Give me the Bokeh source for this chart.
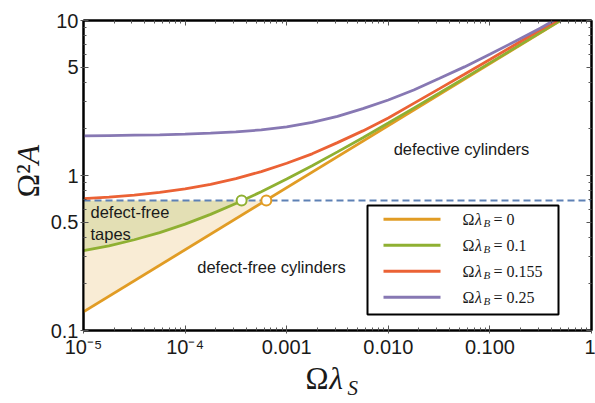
import math
from bokeh.plotting import figure
from bokeh.layouts import row, column
from bokeh.models import (Range1d, FixedTicker, LogAxis, CustomJSTickFormatter,
                          Label, BoxAnnotation, ColumnDataSource)
from bokeh.embed import file_html
from bokeh.resources import INLINE

# ---------------- data ----------------
X_TICKS = [1e-5, 1e-4, 1e-3, 1e-2, 1e-1, 1.0]
X_TICK_LABELS = ["10\u207b\u2075", "10\u207b\u2074", "0.001", "0.010", "0.100", "1"]
X_MINOR = [m * d for d in [1e-5, 1e-4, 1e-3, 1e-2, 1e-1] for m in range(2, 10)]
Y_TICKS = [0.1, 0.5, 1, 5, 10]
Y_TICK_LABELS = ["0.1", "0.5", "1", "5", "10"]
Y_MINOR = [0.2, 0.3, 0.4, 0.6, 0.7, 0.8, 0.9, 2, 3, 4, 6, 7, 8, 9]

# Omega lambda_B = 0  (straight line in log-log)
ORANGE_X = [1e-5, 0.495]
ORANGE_Y = [0.132, 10.0]

# Omega lambda_B = 0.1
GREEN_X = [1e-5, 1.78e-5, 3.16e-5, 5.62e-5, 1e-4, 1.78e-4, 3.16e-4, 5.62e-4, 1e-3,
           1.78e-3, 3.16e-3, 5.62e-3, 0.01, 0.0178, 0.0316, 0.0562, 0.1, 0.178, 0.316, 0.490]
GREEN_Y = [0.327, 0.352, 0.385, 0.428, 0.486, 0.561, 0.659, 0.786, 0.948,
           1.155, 1.42, 1.75, 2.18, 2.72, 3.39, 4.25, 5.33, 6.69, 8.40, 10.0]

# Omega lambda_B = 0.155
RED_X = [1e-5, 1.78e-5, 3.16e-5, 5.62e-5, 1e-4, 1.78e-4, 3.16e-4, 5.62e-4, 1e-3,
         1.78e-3, 3.16e-3, 5.62e-3, 0.01, 0.0178, 0.0316, 0.0562, 0.1, 0.178, 0.316, 0.460]
RED_Y = [0.710, 0.726, 0.747, 0.778, 0.819, 0.877, 0.955, 1.06, 1.20,
         1.38, 1.63, 1.94, 2.35, 2.92, 3.62, 4.50, 5.60, 7.00, 8.75, 10.0]

# Omega lambda_B = 0.25
PURPLE_X = [1e-5, 1.78e-5, 3.16e-5, 5.62e-5, 1e-4, 1.78e-4, 3.16e-4, 5.62e-4, 1e-3,
            1.78e-3, 3.16e-3, 5.62e-3, 0.01, 0.0178, 0.0316, 0.0562, 0.1, 0.178, 0.316, 0.425]
PURPLE_Y = [1.80, 1.81, 1.82, 1.83, 1.85, 1.875, 1.91, 1.97, 2.06,
            2.20, 2.41, 2.70, 3.07, 3.56, 4.22, 5.02, 6.05, 7.35, 8.95, 10.0]

DASH_LEVEL = 0.69
GREEN_CROSS_X = 3.6e-4
ORANGE_CROSS_X = 6.3e-4

LEGEND_VALUES = ["0", "0.1", "0.155", "0.25"]
REGION_TEXTS = ["defective cylinders", "defect-free cylinders", "defect-free", "tapes"]

X_MIN, X_MAX = 1e-5, 1.0
Y_MIN, Y_MAX = 0.1, 10.0

# ---------------- styling ----------------
C_BLUE = "#5E81B5"
C_ORANGE = "#E19C24"
C_GREEN = "#8FB032"
C_RED = "#EB6235"
C_PURPLE = "#8778B3"
C_BEIGE = "#F9ECD5"
C_TAPES = "#E3DFB4"
TXT = "#1a1a1a"
SANS = "Liberation Sans"
SERIF = "Liberation Serif"
LW = 2.8

TOTAL_W, TOTAL_H = 595, 403
YLAB_W = 44          # strip holding the y-axis title
XLAB_H = 43          # strip holding the x-axis title
MAIN_W = TOTAL_W - YLAB_W
MAIN_H = TOTAL_H - XLAB_H

p = figure(width=MAIN_W, height=MAIN_H, x_axis_type="log", y_axis_type="log",
           x_range=Range1d(X_MIN, X_MAX), y_range=Range1d(Y_MIN, Y_MAX),
           output_backend="svg", toolbar_location=None,
           min_border_left=39, min_border_right=4, min_border_top=20, min_border_bottom=28)
p.grid.visible = False
p.outline_line_color = "black"
p.outline_line_width = 2
p.background_fill_color = "white"
p.border_fill_color = "white"

FMT_CODE = """
let best = 0, bd = Infinity;
for (let i = 0; i < vals.length; i++) {
  const d = Math.abs(Math.log10(tick) - Math.log10(vals[i]));
  if (d < bd) { bd = d; best = i; }
}
return labs[best];
"""
x_fmt = CustomJSTickFormatter(args=dict(vals=X_TICKS, labs=X_TICK_LABELS), code=FMT_CODE)
y_fmt = CustomJSTickFormatter(args=dict(vals=Y_TICKS, labs=Y_TICK_LABELS), code=FMT_CODE)


def style_axis(ax, labelled, standoff):
    ax.axis_line_color = "black"
    ax.axis_line_width = 2
    ax.major_tick_line_color = "#555555"
    ax.minor_tick_line_color = "#555555"
    ax.major_tick_line_width = 1
    ax.minor_tick_line_width = 1
    ax.major_tick_in = 5
    ax.minor_tick_in = 3
    ax.minor_tick_out = 0
    if labelled:
        ax.major_tick_out = 3
        ax.major_label_text_font = SANS
        ax.major_label_text_font_size = "20px"
        ax.major_label_text_color = TXT
        ax.major_label_standoff = standoff
    else:
        ax.major_tick_out = 0
        ax.major_label_text_font_size = "1px"
        ax.major_label_text_alpha = 0.0
        ax.major_label_standoff = 0


p.xaxis[0].ticker = FixedTicker(ticks=X_TICKS, minor_ticks=X_MINOR)
p.xaxis[0].formatter = x_fmt
style_axis(p.xaxis[0], True, 2)
p.yaxis[0].ticker = FixedTicker(ticks=Y_TICKS, minor_ticks=Y_MINOR)
p.yaxis[0].formatter = y_fmt
style_axis(p.yaxis[0], True, 2)

top_ax = LogAxis(ticker=FixedTicker(ticks=X_TICKS, minor_ticks=X_MINOR))
style_axis(top_ax, False, 0)
p.add_layout(top_ax, "above")
right_ax = LogAxis(ticker=FixedTicker(ticks=Y_TICKS, minor_ticks=Y_MINOR))
style_axis(right_ax, False, 0)
p.add_layout(right_ax, "right")

# ---------------- filled regions ----------------
n_in = [i for i, x in enumerate(GREEN_X) if x < GREEN_CROSS_X]
g_x = [GREEN_X[i] for i in n_in]
g_y = [GREEN_Y[i] for i in n_in]

beige_x = g_x + [GREEN_CROSS_X, ORANGE_CROSS_X, ORANGE_X[0]]
beige_y = g_y + [DASH_LEVEL, DASH_LEVEL, ORANGE_Y[0]]
p.patch(beige_x, beige_y, fill_color=C_BEIGE, line_color=None)

tapes_x = g_x + [GREEN_CROSS_X, X_MIN]
tapes_y = g_y + [DASH_LEVEL, DASH_LEVEL]
p.patch(tapes_x, tapes_y, fill_color=C_TAPES, line_color=None)

# dashed threshold line
p.line([X_MIN, X_MAX], [DASH_LEVEL, DASH_LEVEL], line_color=C_BLUE, line_width=2,
       line_dash="7 4")

# ---------------- curves ----------------
p.line(ORANGE_X, ORANGE_Y, line_color=C_ORANGE, line_width=LW)
p.line(GREEN_X, GREEN_Y, line_color=C_GREEN, line_width=LW)
p.line(RED_X, RED_Y, line_color=C_RED, line_width=LW)
p.line(PURPLE_X, PURPLE_Y, line_color=C_PURPLE, line_width=LW)

circ = ColumnDataSource(dict(x=[GREEN_CROSS_X, ORANGE_CROSS_X],
                             y=[DASH_LEVEL, DASH_LEVEL],
                             c=[C_GREEN, C_ORANGE]))
p.scatter("x", "y", source=circ, size=10, fill_color="white", line_color="c", line_width=2)

# ---------------- region labels (frame-relative screen units) ----------------
region_pos = [(378, 182, "center"), (188, 64, "center"), (7, 119, "left"), (7, 97, "left")]
for txt, (lx, ly, al) in zip(REGION_TEXTS, region_pos):
    p.add_layout(Label(x=lx, y=ly, x_units="screen", y_units="screen", text=txt,
                       text_align=al, text_baseline="middle", text_font=SANS,
                       text_font_size="16.5px", text_color=TXT))

# ---------------- legend (manual, frame-relative screen units) ----------------
LEG_L, LEG_R, LEG_T, LEG_B = 284, 475, 125, 16
p.add_layout(BoxAnnotation(left=LEG_L, right=LEG_R, top=LEG_T, bottom=LEG_B,
                           left_units="screen", right_units="screen",
                           top_units="screen", bottom_units="screen",
                           fill_color="white", fill_alpha=1.0,
                           line_color="black", line_alpha=1.0, line_width=2))
leg_colors = [C_ORANGE, C_GREEN, C_RED, C_PURPLE]
for i, (val, col) in enumerate(zip(LEGEND_VALUES, leg_colors)):
    yy = LEG_T - 13.7 - 26 * i
    p.add_layout(BoxAnnotation(left=LEG_L + 16, right=LEG_L + 73, top=yy + 1.5, bottom=yy - 1.5,
                               left_units="screen", right_units="screen",
                               top_units="screen", bottom_units="screen",
                               fill_color=col, fill_alpha=1.0, line_color=None))
    p.add_layout(Label(x=LEG_L + 95, y=yy, x_units="screen", y_units="screen", text="\u03a9",
                       text_align="left", text_baseline="middle", text_font=SERIF,
                       text_font_size="16px", text_color=TXT))
    p.add_layout(Label(x=LEG_L + 107.5, y=yy, x_units="screen", y_units="screen", text="\u03bb",
                       text_align="left", text_baseline="middle", text_font=SERIF,
                       text_font_style="italic", text_font_size="16px", text_color=TXT))
    p.add_layout(Label(x=LEG_L + 116, y=yy - 4, x_units="screen", y_units="screen", text="B",
                       text_align="left", text_baseline="middle", text_font=SERIF,
                       text_font_style="italic", text_font_size="11px", text_color=TXT))
    p.add_layout(Label(x=LEG_L + 126, y=yy, x_units="screen", y_units="screen",
                       text="= " + val, text_align="left", text_baseline="middle",
                       text_font=SERIF, text_font_size="16px", text_color=TXT))


# ---------------- axis-title strips ----------------
def text_strip(w, h):
    f = figure(width=w, height=h, x_range=Range1d(0, 1), y_range=Range1d(0, 1),
               output_backend="svg", toolbar_location=None,
               x_axis_location=None, y_axis_location=None,
               min_border_left=0, min_border_right=0, min_border_top=0, min_border_bottom=0)
    f.grid.visible = False
    f.outline_line_color = None
    f.background_fill_color = "white"
    f.border_fill_color = "white"
    return f


ylab = text_strip(YLAB_W, TOTAL_H)
ylab.add_layout(Label(x=27, y=206, x_units="screen", y_units="screen", text="\u03a9\u00b2",
                      angle=math.pi / 2, text_align="left", text_baseline="middle",
                      text_font=SERIF, text_font_size="32px", text_color=TXT))
ylab.add_layout(Label(x=27, y=239, x_units="screen", y_units="screen", text="A",
                      angle=math.pi / 2, text_align="left", text_baseline="middle",
                      text_font=SERIF, text_font_style="italic", text_font_size="32px",
                      text_color=TXT))

# the x strip's frame lines up with the main frame (starts at the main frame's left edge)
xlab = text_strip(MAIN_W, XLAB_H)
xlab.add_layout(Label(x=222, y=25, x_units="screen", y_units="screen", text="\u03a9",
                      text_align="left", text_baseline="middle",
                      text_font=SERIF, text_font_size="31px", text_color=TXT))
xlab.add_layout(Label(x=246, y=25, x_units="screen", y_units="screen", text="\u03bb",
                      text_align="left", text_baseline="middle",
                      text_font=SERIF, text_font_style="italic", text_font_size="31px",
                      text_color=TXT))
xlab.add_layout(Label(x=264, y=16, x_units="screen", y_units="screen", text="S",
                      text_align="left", text_baseline="middle",
                      text_font=SERIF, text_font_style="italic", text_font_size="21px",
                      text_color=TXT))

layout = row(ylab, column(p, xlab, spacing=0), spacing=0)
open("out.html", "w").write(file_html(layout, INLINE))
